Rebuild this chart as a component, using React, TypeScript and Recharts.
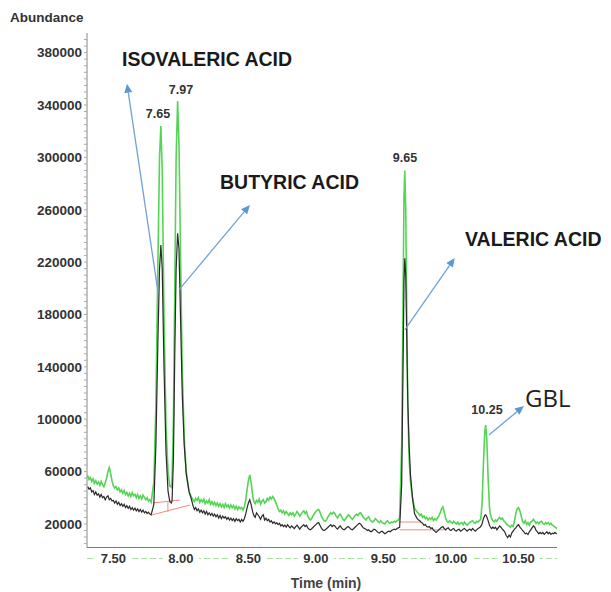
import React from 'react';
import { LineChart, Line, XAxis, YAxis, ReferenceLine } from 'recharts';

// retention time (min) and abundance, split into stretches of the run
const tLead = [
  7.31, 7.32, 7.33, 7.34, 7.35, 7.36, 7.37, 7.38, 7.39, 7.4,
  7.41, 7.42, 7.43, 7.44, 7.45, 7.46, 7.47, 7.48, 7.49, 7.5,
  7.51, 7.52, 7.53, 7.54, 7.55, 7.56, 7.57, 7.58, 7.59, 7.6,
  7.61, 7.62, 7.63, 7.64, 7.65, 7.66, 7.67, 7.68, 7.69, 7.7,
  7.71, 7.72, 7.73, 7.74, 7.75, 7.76, 7.77, 7.78,
];
const gLead = [
  57000, 54000, 55500, 52500, 54500, 51000, 53000, 50500, 52000, 49500,
  52500, 50000, 48500, 51500, 55000, 60000, 63000, 58500, 53000, 49000,
  47500, 48500, 46000, 47500, 44500, 46000, 43500, 45500, 42500, 44000,
  41500, 43500, 41000, 44000, 41500, 42500, 40000, 42500, 39500, 41500,
  39000, 42000, 40500, 38500, 40000, 37500, 38500, 36500,
];
const bLead = [
  48500, 46500, 47500, 44500, 45500, 42500, 44500, 42000, 43000, 40500,
  42500, 40000, 41000, 38500, 40500, 41500, 38500, 39500, 37500, 38000,
  36000, 37500, 35000, 36500, 34000, 35500, 33500, 35000, 32500, 34000,
  32000, 33500, 31000, 32500, 30500, 32000, 30000, 31500, 29500, 31000,
  29000, 30500, 28500, 29500, 28000, 29000, 27500, 27000,
];

// isovaleric + butyric acid peaks
const tAcids = [7.8, 7.815, 7.83, 7.842, 7.852, 7.862, 7.875, 7.89, 7.905, 7.918, 7.93, 7.935, 7.945, 7.955, 7.965, 7.976,
  7.986, 7.997, 8.01, 8.025, 8.04, 8.06, 8.08];
const gAcids = [52000, 110000, 220000, 300000, 324000, 290000, 180000, 95000, 60000, 49000, 48000, 55000, 100000, 200000,
  300000, 343000, 310000, 230000, 140000, 85000, 60000, 45000, 40000];
const bAcids = [35000, 80000, 160000, 215000, 233000, 215000, 140000, 75000, 45000, 37000, 36000, 38000, 70000, 150000,
  215000, 242000, 230000, 180000, 120000, 80000, 58000, 45000, 38000];

const tMid = [
  8.09, 8.1, 8.11, 8.12, 8.13, 8.14, 8.15, 8.16, 8.17, 8.18,
  8.19, 8.2, 8.21, 8.22, 8.23, 8.24, 8.25, 8.26, 8.27, 8.28,
  8.29, 8.3, 8.31, 8.32, 8.33, 8.34, 8.35, 8.36, 8.37, 8.38,
  8.39, 8.4, 8.41, 8.42, 8.43, 8.44, 8.45, 8.46, 8.47, 8.48,
  8.49, 8.5, 8.51, 8.52, 8.53, 8.54, 8.55, 8.56, 8.57, 8.58,
  8.59, 8.6, 8.61, 8.62, 8.63, 8.64, 8.65, 8.66, 8.67, 8.68,
  8.69, 8.7, 8.71, 8.72, 8.73, 8.74, 8.75, 8.76, 8.77, 8.78,
  8.79, 8.8, 8.81, 8.82, 8.83, 8.84, 8.85, 8.86, 8.87, 8.88,
  8.89, 8.9, 8.91, 8.92, 8.93, 8.94, 8.95, 8.96, 8.97, 8.98,
  8.99, 9.0, 9.01, 9.02, 9.03, 9.04, 9.05, 9.06, 9.07, 9.08,
  9.09, 9.1, 9.11, 9.12, 9.13, 9.14, 9.15, 9.16, 9.17, 9.18,
  9.19, 9.2, 9.21, 9.22, 9.23, 9.24, 9.25, 9.26, 9.27, 9.28,
  9.29, 9.3, 9.31, 9.32, 9.33, 9.34, 9.35, 9.36, 9.37, 9.38,
  9.39, 9.4, 9.41, 9.42, 9.43, 9.44, 9.45, 9.46, 9.47, 9.48,
  9.49, 9.5, 9.51, 9.52, 9.53, 9.54, 9.55, 9.56, 9.57, 9.58,
  9.59, 9.6, 9.61, 9.62,
];
const gMid = [
  38500, 37000, 39500, 38000, 40000, 36500, 38500, 37000, 39000, 35500,
  37500, 36000, 38500, 35000, 37000, 34500, 36500, 34000, 36000, 33500,
  35500, 33000, 35000, 32500, 35500, 33000, 34500, 32000, 34500, 32500,
  34000, 31500, 33500, 31000, 33000, 31500, 32500, 30500, 33000, 38000,
  46000, 53000, 57500, 52000, 43000, 37000, 35500, 38000, 36500, 39000,
  35000, 37500, 38500, 36000, 37000, 39500, 38000, 40500, 39000, 41000,
  39500, 37000, 34500, 31500, 29500, 30500, 28500, 30000, 27500, 29500,
  28000, 26500, 28500, 27000, 28500, 26000, 27500, 29500, 28000, 26000,
  27500, 29000, 30000, 28000, 29500, 26000, 24000, 23000, 24500, 26500,
  28000, 29500, 30500, 31000, 29000, 26000, 24000, 22500, 22000, 23500,
  25500, 27000, 28500, 27500, 29000, 28000, 26000, 24500, 26500, 27500,
  25500, 23500, 22500, 24000, 25500, 27000, 26000, 24500, 23500, 25000,
  26500, 27500, 26500, 28000, 28500, 27000, 25000, 24000, 23000, 24500,
  25500, 23500, 22000, 21500, 22500, 24000, 23000, 22000, 21000, 22500,
  21000, 20500, 20000, 21500, 22500, 21000, 20500, 21500, 21000, 22000,
  21500, 22500, 23000, 25000,
];
const bMid = [
  34000, 31000, 32500, 30000, 31500, 29000, 30500, 28500, 30000, 27500,
  29500, 27000, 28500, 26500, 28000, 26000, 27500, 25500, 27000, 24500,
  26500, 24000, 26000, 24500, 25500, 23500, 25000, 23000, 24500, 22500,
  24000, 22000, 24000, 22500, 23500, 21500, 23500, 22000, 24000, 27500,
  32000, 36000, 38500, 35000, 30000, 26500, 25000, 28500, 27000, 25500,
  23500, 26000, 27000, 23000, 24500, 22500, 23500, 21500, 22500, 20500,
  21500, 20000, 21000, 19500, 20500, 18500, 19500, 18000, 19000, 17500,
  19500, 18000, 17000, 18500, 17500, 16500, 18000, 19000, 17500, 16000,
  17500, 18500, 19500, 18000, 19000, 17000, 16000, 15500, 16500, 17500,
  18500, 19500, 20500, 21000, 19000, 17000, 15500, 15000, 15500, 16500,
  17500, 18500, 19500, 18000, 19000, 18500, 17000, 16000, 17500, 18500,
  17000, 16000, 15500, 16500, 17500, 18000, 17000, 16000, 15500, 16500,
  17500, 18500, 19500, 20500, 20000, 18500, 17000, 16500, 16000, 15000,
  15500, 14500, 14000, 15000, 16000, 15500, 14500, 13500, 13000, 14000,
  14500, 13500, 12500, 13000, 14000, 14500, 14000, 15000, 15500, 16000,
  15500, 16500, 17000, 17500,
];

// valeric acid peak
const tValeric = [9.635, 9.645, 9.652, 9.658, 9.665, 9.673, 9.68, 9.69, 9.7, 9.715, 9.73, 9.75];
const gValeric = [80000, 190000, 270000, 290000, 260000, 180000, 110000, 70000, 52000, 40000, 32000, 29000];
const bValeric = [50000, 140000, 205000, 223000, 210000, 160000, 115000, 80000, 58000, 40000, 28000, 24000];

const tLate = [
  9.76, 9.77, 9.78, 9.79, 9.8, 9.81, 9.82, 9.83, 9.84, 9.85,
  9.86, 9.87, 9.88, 9.89, 9.9, 9.91, 9.92, 9.93, 9.94, 9.95,
  9.96, 9.97, 9.98, 9.99, 10.0, 10.01, 10.02, 10.03, 10.04, 10.05,
  10.06, 10.07, 10.08, 10.09, 10.1, 10.11, 10.12, 10.13, 10.14, 10.15,
  10.16, 10.17, 10.18, 10.19, 10.2, 10.21, 10.22,
];
const gLate = [
  28000, 26500, 27500, 25000, 26000, 24000, 25000, 23000, 24500, 23500,
  25000, 22500, 24000, 23000, 24500, 26000, 28500, 31500, 33000, 29000,
  24500, 22000, 21000, 22500, 21500, 20500, 22000, 21000, 20000, 21500,
  19500, 20500, 21000, 19500, 21500, 20000, 19000, 20500, 21000, 22000,
  22500, 21000, 20500, 22000, 21500, 22500, 23500,
];
const bLate = [
  23000, 22500, 21000, 20500, 19000, 19500, 18000, 17500, 18000, 16500,
  17000, 15500, 14500, 13500, 14500, 15500, 16500, 17500, 18000, 16500,
  15500, 16500, 17000, 15500, 15000, 16000, 16500, 15000, 14500, 15500,
  16000, 14500, 15000, 16000, 16500, 15500, 14500, 15500, 16000, 15000,
  16500, 15500, 14500, 15500, 16500, 17000, 18000,
];

// GBL peak
const tGbl = [10.23, 10.24, 10.25, 10.257, 10.265, 10.275, 10.285];
const gGbl = [35000, 65000, 90000, 95500, 85000, 55000, 33000];
const bGbl = [20000, 24000, 26500, 27000, 25500, 22500, 19000];

const tTail = [
  10.29, 10.3, 10.31, 10.32, 10.33, 10.34, 10.35, 10.36, 10.37, 10.38,
  10.39, 10.4, 10.41, 10.42, 10.43, 10.44, 10.45, 10.46, 10.47, 10.48,
  10.49, 10.5, 10.51, 10.52, 10.53, 10.54, 10.55, 10.56, 10.57, 10.58,
  10.59, 10.6, 10.61, 10.62, 10.63, 10.64, 10.65, 10.66, 10.67, 10.68,
  10.69, 10.7, 10.71, 10.72, 10.73, 10.74, 10.75, 10.76, 10.77, 10.78,
  10.785,
];
const gTail = [
  28000, 24500, 22500, 21500, 23000, 22000, 24000, 25000, 23500, 24500,
  22500, 21500, 20000, 19000, 18500, 17500, 19000, 18000, 22000, 28000,
  31500, 32500, 30000, 26000, 22000, 20500, 22500, 19500, 21000, 19000,
  21500, 22000, 23500, 22000, 20500, 21500, 20000, 21500, 22000, 20500,
  19500, 21000, 20000, 21000, 19500, 20500, 19000, 18500, 17500, 17000,
  16000,
];
const bTail = [
  18000, 16500, 17500, 16500, 17500, 15500, 17000, 18500, 17500, 16000,
  15000, 13500, 11000, 9500, 11500, 10000, 13000, 14500, 16000, 17000,
  18500, 19500, 17500, 16500, 15000, 14000, 12500, 13000, 12000, 14000,
  15500, 17000, 18500, 17500, 15000, 14000, 12500, 13500, 12500, 13500,
  12000, 13000, 14000, 12500, 13500, 12000, 13000, 12500, 13500, 12500,
  12500,
];

const times = [...tLead, ...tAcids, ...tMid, ...tValeric, ...tLate, ...tGbl, ...tTail];
const greenTrace = [...gLead, ...gAcids, ...gMid, ...gValeric, ...gLate, ...gGbl, ...gTail];
const blackTrace = [...bLead, ...bAcids, ...bMid, ...bValeric, ...bLate, ...bGbl, ...bTail];

const yLabels = [20000, 60000, 100000, 140000, 180000, 220000, 260000, 300000, 340000, 380000];
const xLabels = [7.5, 8.0, 8.5, 9.0, 9.5, 10.0, 10.5];

// arrows: [fromTime, fromAbundance, toTime, toAbundance]
const arrows = [
  [7.832, 196500, 7.601, 356200],
  [7.986, 198800, 8.511, 263700],
  [9.658, 168200, 10.028, 223200],
  [10.281, 88000, 10.54, 110150],
];

// integration baselines
const baselines = [
  [7.787, 26900, 8.068, 34500],
  [7.793, 36000, 7.993, 38300],
  [7.904, 29200, 7.904, 36800],
  [9.621, 21500, 9.78, 21500],
  [9.621, 15500, 9.95, 15500],
];

const data = times.map((t, i) => ({ t, green: greenTrace[i], black: blackTrace[i] }));

const minorY: number[] = [];
for (let v = 5000; v <= 390000; v += 5000) minorY.push(v);
const minorX: number[] = [];
for (let k = 74; k <= 107; k++) minorX.push(k / 10);

const Arrow = (p: any) => {
  const { x1, y1, x2, y2 } = p;
  const a = Math.atan2(y2 - y1, x2 - x1);
  const len = 9;
  const w = 4;
  const bx = x2 - len * Math.cos(a);
  const by = y2 - len * Math.sin(a);
  const pts = [
    `${x2},${y2}`,
    `${bx + w * Math.sin(a)},${by - w * Math.cos(a)}`,
    `${bx - w * Math.sin(a)},${by + w * Math.cos(a)}`,
  ].join(' ');
  return (
    <g>
      <line x1={x1} y1={y1} x2={bx} y2={by} stroke="#6fa3d6" strokeWidth={1.3} />
      <polygon points={pts} fill="#5b97d3" />
    </g>
  );
};

const LabelTick = ({ x, y, payload }: any) => {
  const s = payload.value.toFixed(2);
  const w = s.length > 4 ? 42 : 36;
  return (
    <g>
      <rect x={x - w / 2} y={y - 8} width={w} height={16} fill="#fff" />
      <text x={x} y={y} dy="0.36em" textAnchor="middle" fontSize={13} fontWeight="bold" fill="#333"
        fontFamily="'Liberation Sans', Arial, sans-serif">{s}</text>
    </g>
  );
};

const font = "'Liberation Sans', Arial, sans-serif";

const txt = (s: string, left: number, top: number, size: number, extra: any = {}) => (
  <div style={{ position: 'absolute', left, top, fontSize: size, fontWeight: 'bold', fontFamily: font,
    lineHeight: 1, whiteSpace: 'nowrap', color: '#1a1a1a', transform: 'translateY(-50%)', ...extra }}>{s}</div>
);

const ctr = (s: string, cx: number, cy: number, size: number, extra: any = {}) =>
  txt(s, cx, cy, size, { transform: 'translate(-50%, -50%)', ...extra });

export default function App() {
  return (
    <div style={{ position: 'absolute', left: 0, top: 0, width: 611, height: 592, background: '#fff' }}>
      <LineChart width={611} height={592} data={data} margin={{ top: 33, right: 54, bottom: 11.5, left: 0 }}>
        <XAxis xAxisId="a" dataKey="t" type="number" domain={[7.305, 10.785]} allowDataOverflow
          ticks={minorX} interval={0} tick={false} tickSize={3} height={11}
          axisLine={{ stroke: '#777' }} tickLine={{ stroke: '#888' }} />
        <XAxis xAxisId="b" dataKey="t" type="number" domain={[7.305, 10.785]} allowDataOverflow
          ticks={xLabels} interval={0} tick={<LabelTick />} tickSize={0} tickMargin={0} tickLine={false} height={22}
          axisLine={{ stroke: '#a6e3a0', strokeDasharray: '6 3' }} />
        <YAxis yAxisId="y" type="number" domain={[2000, 395000]} allowDataOverflow width={87}
          ticks={minorY} interval={0} tickSize={3} tickMargin={2}
          tickFormatter={(v: number) => (yLabels.includes(v) ? String(v) : '')}
          tick={{ fontSize: 13.5, fontWeight: 'bold', fill: '#333', fontFamily: font }}
          axisLine={{ stroke: '#888' }} tickLine={{ stroke: '#aaa' }} />
        {baselines.map((b, i) => (
          <ReferenceLine key={'b' + i} xAxisId="a" yAxisId="y" ifOverflow="visible"
            segment={[{ x: b[0], y: b[1] }, { x: b[2], y: b[3] }]} stroke="#f08a80" strokeWidth={1} />
        ))}
        <Line xAxisId="a" yAxisId="y" type="linear" dataKey="green" stroke="#55d455" strokeWidth={1.6}
          dot={false} isAnimationActive={false} />
        <Line xAxisId="a" yAxisId="y" type="linear" dataKey="black" stroke="#2a2a2a" strokeWidth={1.2}
          dot={false} isAnimationActive={false} />
        {arrows.map((a, i) => (
          <ReferenceLine key={'a' + i} xAxisId="a" yAxisId="y" ifOverflow="visible"
            segment={[{ x: a[0], y: a[1] }, { x: a[2], y: a[3] }]} shape={(p: any) => <Arrow {...p} />} />
        ))}
      </LineChart>
      {txt('Abundance', 10, 18, 13.5, { color: '#333' })}
      {txt('ISOVALERIC ACID', 122, 60, 19.5)}
      {txt('BUTYRIC ACID', 220, 183, 19.5)}
      {txt('VALERIC ACID', 465, 240, 19.5)}
      {txt('GBL', 525, 398, 24, { fontWeight: 'normal', fontFamily: "'Open Sans', sans-serif", color: '#222' })}
      {ctr('7.65', 158, 114, 12.5, { color: '#333' })}
      {ctr('7.97', 181, 90, 12.5, { color: '#333' })}
      {ctr('9.65', 405, 158, 12.5, { color: '#333' })}
      {ctr('10.25', 487, 410, 12.5, { color: '#333' })}
      {ctr('Time (min)', 326, 583, 14, { color: '#444' })}
    </div>
  );
}
